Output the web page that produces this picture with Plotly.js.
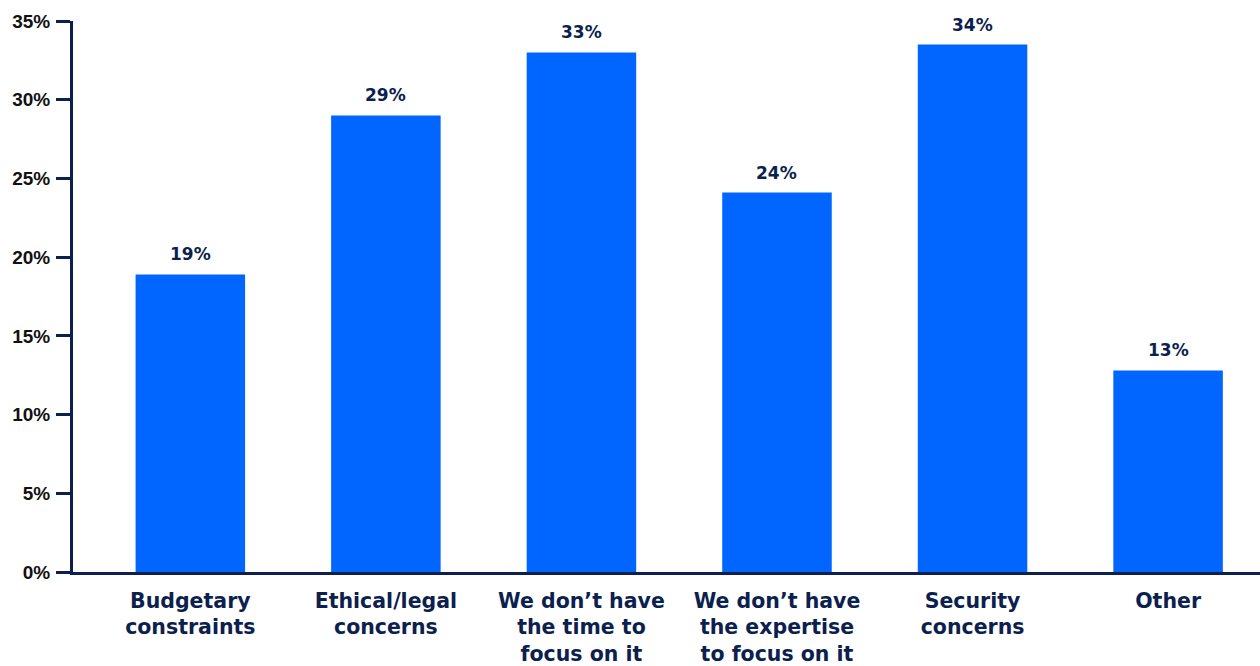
<!DOCTYPE html>
<html><head><meta charset="utf-8">
<script src="https://cdn.plot.ly/plotly-3.0.1.min.js"></script>
<style>html,body{margin:0;padding:0;background:#fff;}#chart{width:1260px;height:666px;}</style>
</head><body><div id="chart"></div>
<script>
const categories = ["Budgetary<br>constraints","Ethical/legal<br>concerns","We don’t have<br>the time to<br>focus on it","We don’t have<br>the expertise<br>to focus on it","Security<br>concerns","Other"];
const values = [18.9, 29.0, 33.0, 24.1, 33.5, 12.8];
const labels = ["19%","29%","33%","24%","34%","13%"];
const yTickVals = [0,5,10,15,20,25,30,35];
const yTickText = ["0%","5%","10%","15%","20%","25%","30%","35%"];
const navy = "#0c1f4e";
const idx = categories.map((c,i)=>i);
Plotly.newPlot("chart", [{
  type: "bar",
  x: idx,
  y: values,
  width: 0.56,
  marker: {color: "#0066ff"},
  hoverinfo: "none"
}], {
  width: 1260, height: 666,
  margin: {l: 73, r: 0, t: 21, b: 94},
  paper_bgcolor: "#fff", plot_bgcolor: "#fff",
  showlegend: false,
  annotations: idx.map(i => ({
    x: i, y: values[i], xref: "x", yref: "y",
    text: labels[i], showarrow: false,
    yanchor: "bottom", yshift: 8,
    font: {family: "DejaVu Sans, Verdana, sans-serif", size: 17, color: navy, weight: 700}
  })),
  xaxis: {
    range: [-0.6, 5.47],
    tickvals: idx, ticktext: categories,
    showline: true, linecolor: navy, linewidth: 3,
    ticks: "", showgrid: false, zeroline: false,
    tickfont: {family: "DejaVu Sans, Verdana, sans-serif", size: 20.5, color: navy, weight: 700},
    ticklabelstandoff: 8
  },
  yaxis: {
    range: [0, 35],
    tickvals: yTickVals, ticktext: yTickText,
    showline: true, linecolor: navy, linewidth: 3,
    ticks: "outside", ticklen: 14, tickwidth: 3, tickcolor: navy,
    showgrid: false, zeroline: false,
    tickfont: {family: "Arial, Liberation Sans, sans-serif", size: 19, color: "#111", weight: 700},
    ticklabelstandoff: 2
  }
}, {staticPlot: true, displayModeBar: false});
</script></body></html>
